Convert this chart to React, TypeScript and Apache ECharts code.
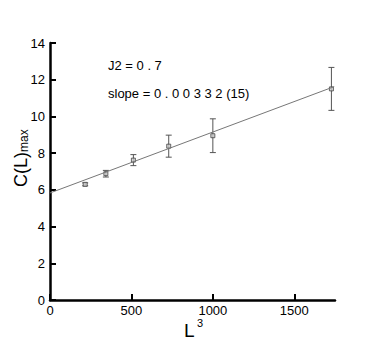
import React, { useEffect, useRef } from "react";
import * as echarts from "echarts";

const L3 = [216, 343, 512, 729, 1000, 1728];
const C = [6.3, 6.88, 7.62, 8.38, 8.95, 11.5];
const ERR = [0.08, 0.18, 0.3, 0.6, 0.92, 1.17];
const FIT_INTERCEPT = 5.83;
const FIT_SLOPE = 0.00332;
const FIT_X = [0, 1745];
const X_TICKS = [0, 500, 1000, 1500];
const Y_TICKS = [0, 2, 4, 6, 8, 10, 12, 14];

export default function App() {
  const ref = useRef<HTMLDivElement>(null);
  useEffect(() => {
    const chart = echarts.init(ref.current!, undefined, { renderer: "svg" });
    const font = "Liberation Sans, Arial, sans-serif";
    const pts = L3.map((x, i) => [x, C[i]]);
    const errData = L3.map((x, i) => [x, C[i] - ERR[i], C[i] + ERR[i]]);
    const fitData = FIT_X.map((x) => [x, FIT_INTERCEPT + FIT_SLOPE * x]);
    chart.setOption({
      animation: false,
      grid: { left: 50, top: 43, right: 47, bottom: 40, containLabel: false },
      xAxis: {
        type: "value",
        min: 0,
        max: 1750,
        interval: 500,
        splitLine: { show: false },
        axisLine: { lineStyle: { color: "#000", width: 2.5 } },
        axisTick: {
          inside: true,
          length: 6,
          lineStyle: { color: "#000", width: 2 },
          customValues: X_TICKS,
        },
        axisLabel: {
          color: "#000",
          fontSize: 13,
          fontFamily: font,
          margin: 4,
          customValues: X_TICKS,
          formatter: (v: number) => String(v),
        },
      },
      yAxis: {
        type: "value",
        min: 0,
        max: 14,
        interval: 2,
        splitLine: { show: false },
        axisLine: { show: true, lineStyle: { color: "#000", width: 2.5 } },
        axisTick: {
          show: true,
          inside: true,
          length: 6,
          lineStyle: { color: "#000", width: 2 },
          customValues: Y_TICKS,
        },
        axisLabel: {
          color: "#000",
          fontSize: 13,
          fontFamily: font,
          margin: 5,
          customValues: Y_TICKS,
          formatter: (v: number) => String(v),
        },
      },
      graphic: [
        {
          type: "text",
          left: 108,
          top: 59,
          style: { text: "J2 = 0 . 7", fontSize: 13, fontFamily: font, fill: "#000" },
        },
        {
          type: "text",
          left: 108,
          top: 87,
          style: { text: "slope = 0 . 0 0 3 3 2 (15)", fontSize: 13, fontFamily: font, fill: "#000" },
        },
        {
          type: "text",
          x: 184,
          y: 321,
          style: { text: "L", fontSize: 19, fontFamily: font, fill: "#000", verticalAlign: "top" },
        },
        {
          type: "text",
          x: 197,
          y: 317,
          style: { text: "3", fontSize: 11, fontFamily: font, fill: "#000", verticalAlign: "top" },
        },
        {
          type: "text",
          x: 12,
          y: 187,
          rotation: Math.PI / 2,
          style: {
            text: "{a|C(L)}{s|max}",
            fontFamily: font,
            fill: "#000",
            rich: {
              a: { fontSize: 18, fontFamily: font, verticalAlign: "top" },
              s: { fontSize: 12, fontFamily: font, verticalAlign: "bottom" },
            },
          },
        },
      ],
      series: [
        {
          type: "line",
          data: fitData,
          showSymbol: false,
          lineStyle: { color: "#777", width: 1 },
          silent: true,
        },
        {
          type: "custom",
          data: errData,
          renderItem: (params: any, api: any) => {
            const x = api.value(0);
            const lo = api.coord([x, api.value(1)]);
            const hi = api.coord([x, api.value(2)]);
            const w = 3;
            const st = { stroke: "#555", lineWidth: 1 };
            return {
              type: "group",
              children: [
                { type: "line", shape: { x1: lo[0], y1: lo[1], x2: hi[0], y2: hi[1] }, style: st },
                { type: "line", shape: { x1: lo[0] - w, y1: lo[1], x2: lo[0] + w, y2: lo[1] }, style: st },
                { type: "line", shape: { x1: hi[0] - w, y1: hi[1], x2: hi[0] + w, y2: hi[1] }, style: st },
              ],
            };
          },
        },
        {
          type: "scatter",
          data: pts,
          symbol: "rect",
          symbolSize: 4,
          itemStyle: { color: "#ccc", borderColor: "#444", borderWidth: 1 },
        },
      ],
    });
    return () => chart.dispose();
  }, []);
  return (
    <div
      ref={ref}
      style={{ position: "absolute", left: 0, top: 0, width: 382, height: 340 }}
    />
  );
}
